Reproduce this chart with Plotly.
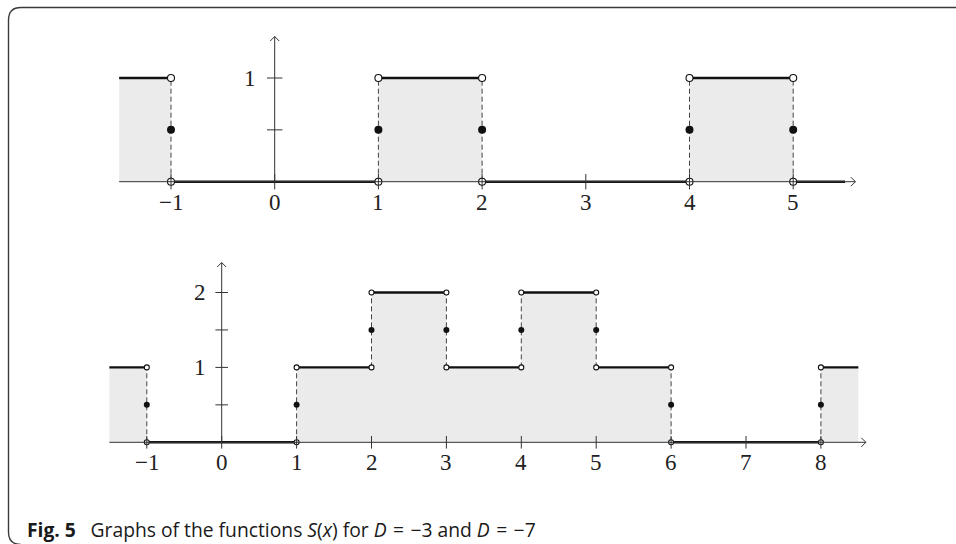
import plotly.graph_objects as go

# ---------------- data ----------------
# top graph: D = -3
top_xmin, top_xmax = -1.5, 5.5
top_jumps = [-1, 1, 2, 4, 5]
top_levels = [1, 0, 1, 0, 1, 0]          # value on each open interval
top_mid = [0.5, 0.5, 0.5, 0.5, 0.5]      # value at each jump
top_xticks = [-1, 0, 1, 2, 3, 4, 5]
top_xlabels = ["\u22121", "0", "1", "2", "3", "4", "5"]
top_yticks = [0.5, 1]
top_ylabels = ["", "1"]

# bottom graph: D = -7
bot_xmin, bot_xmax = -1.5, 8.5
bot_jumps = [-1, 1, 2, 3, 4, 5, 6, 8]
bot_levels = [1, 0, 1, 2, 1, 2, 1, 0, 1]
bot_mid = [0.5, 0.5, 1.5, 1.5, 1.5, 1.5, 0.5, 0.5]
bot_xticks = [-1, 0, 1, 2, 3, 4, 5, 6, 7, 8]
bot_xlabels = ["\u22121", "0", "1", "2", "3", "4", "5", "6", "7", "8"]
bot_yticks = [0.5, 1, 1.5, 2]
bot_ylabels = ["", "1", "", "2"]

caption = ("<b>Fig. 5</b>\u2002 Graphs of the functions <i>S</i>(<i>x</i>) for "
           "<i>D</i>\u2004=\u2004\u22123 and <i>D</i>\u2004=\u2004\u22127")

# ---------------- layout geometry ----------------
W, H = 956, 544
TOP = dict(ox=274.7, oy=181.7, s=103.7, y0px=0, y1px=236, ax_end=5.6, ay_end=1.4,
           open_size=7, dot_size=8, tick=11, lshift=-21, yshift_x=-17)
BOT = dict(ox=221.7, oy=442.3, s=74.9, y0px=240, y1px=544, ax_end=8.6, ay_end=2.4,
           open_size=5, dot_size=6, tick=9, lshift=-20, yshift_x=-14)

FILL = "#ebebeb"
INK = "#111111"
AXC = "#333333"
LABEL_FONT = dict(family="Liberation Serif", size=23, color="#222222")

fig = go.Figure()
annotations = []


def panel(g, xa, ya, xmin, xmax, jumps, levels, mid, xticks, xlabels, yticks, ylabels):
    xr, yr = "x" if xa == 1 else f"x{xa}", "y" if ya == 1 else f"y{ya}"
    # fill under step function
    fx = [xmin] + list(jumps) + [xmax]
    fy = list(levels) + [levels[-1]]
    fig.add_trace(go.Scatter(x=fx, y=fy, mode="lines", line=dict(width=0, shape="hv"),
                             fill="tozeroy", fillcolor=FILL, hoverinfo="skip",
                             showlegend=False, xaxis=xr, yaxis=yr))
    # dashed verticals at jumps
    dx, dy = [], []
    for i, j in enumerate(jumps):
        lo, hi = min(levels[i], levels[i + 1]), max(levels[i], levels[i + 1])
        dx += [j, j, None]
        dy += [lo, hi, None]
    fig.add_trace(go.Scatter(x=dx, y=dy, mode="lines",
                             line=dict(color="#444444", width=1, dash="5px,3px"),
                             hoverinfo="skip", showlegend=False, xaxis=xr, yaxis=yr))
    # thick horizontal segments
    sx, sy = [], []
    for i, lv in enumerate(levels):
        sx += [fx[i], fx[i + 1], None]
        sy += [lv, lv, None]
    fig.add_trace(go.Scatter(x=sx, y=sy, mode="lines", line=dict(color=INK, width=2.4),
                             hoverinfo="skip", showlegend=False, xaxis=xr, yaxis=yr))
    # open circles at both ends of each jump
    ox_, oy_ = [], []
    for i, j in enumerate(jumps):
        ox_ += [j, j]
        oy_ += [levels[i], levels[i + 1]]
    fig.add_trace(go.Scatter(x=ox_, y=oy_, mode="markers",
                             marker=dict(symbol="circle", size=g["open_size"], color="white",
                                         line=dict(color=INK, width=1.1)),
                             hoverinfo="skip", showlegend=False, xaxis=xr, yaxis=yr, cliponaxis=False))
    # filled dots at jump values
    fig.add_trace(go.Scatter(x=jumps, y=mid, mode="markers",
                             marker=dict(symbol="circle", size=g["dot_size"], color=INK, line=dict(width=0)),
                             hoverinfo="skip", showlegend=False, xaxis=xr, yaxis=yr, cliponaxis=False))
    # axes lines
    s = g["s"]
    ah = 4.5 / s
    fig.add_trace(go.Scatter(
        x=[xmin, g["ax_end"], None, g["ax_end"] - ah, g["ax_end"], g["ax_end"] - ah, None,
           0, 0, None, -ah, 0, ah],
        y=[0, 0, None, ah, 0, -ah, None,
           0, g["ay_end"], None, g["ay_end"] - ah, g["ay_end"], g["ay_end"] - ah],
        mode="lines", line=dict(color=AXC, width=1), hoverinfo="skip",
        showlegend=False, xaxis=xr, yaxis=yr, cliponaxis=False))
    # tick marks
    fig.add_trace(go.Scatter(x=xticks, y=[0] * len(xticks), mode="markers",
                             marker=dict(symbol="line-ns", size=g["tick"], line=dict(color=AXC, width=1)),
                             hoverinfo="skip", showlegend=False, xaxis=xr, yaxis=yr, cliponaxis=False))
    fig.add_trace(go.Scatter(x=[0] * len(yticks), y=yticks, mode="markers",
                             marker=dict(symbol="line-ew", size=g["tick"], line=dict(color=AXC, width=1)),
                             hoverinfo="skip", showlegend=False, xaxis=xr, yaxis=yr, cliponaxis=False))
    # tick labels
    for v, t in zip(xticks, xlabels):
        annotations.append(dict(x=v, y=0, xref=xr, yref=yr, text=t, showarrow=False,
                                xanchor="center", yanchor="middle", yshift=g["lshift"],
                                font=LABEL_FONT))
    for v, t in zip(yticks, ylabels):
        if t:
            annotations.append(dict(x=0, y=v, xref=xr, yref=yr, text=t, showarrow=False,
                                    xanchor="right", yanchor="middle", xshift=g["yshift_x"],
                                    font=LABEL_FONT))


panel(TOP, 1, 1, top_xmin, top_xmax, top_jumps, top_levels, top_mid,
      top_xticks, top_xlabels, top_yticks, top_ylabels)
panel(BOT, 2, 2, bot_xmin, bot_xmax, bot_jumps, bot_levels, bot_mid,
      bot_xticks, bot_xlabels, bot_yticks, bot_ylabels)


def axes_for(g):
    xr = [-g["ox"] / g["s"], (W - g["ox"]) / g["s"]]
    yr = [(g["oy"] - g["y1px"]) / g["s"], (g["oy"] - g["y0px"]) / g["s"]]
    yd = [1 - g["y1px"] / H, 1 - g["y0px"] / H]
    return xr, yr, yd


txr, tyr, tyd = axes_for(TOP)
bxr, byr, byd = axes_for(BOT)
hidden = dict(visible=False, showgrid=False, zeroline=False, fixedrange=True)

annotations.append(dict(x=25 / W, y=1 - 529.5 / H, xref="paper", yref="paper", text=caption,
                        showarrow=False, xanchor="left", yanchor="middle",
                        font=dict(family="Open Sans", size=19.3, color="#1a1a1a")))

# rounded frame
def px(x, y):
    return f"{x / W:.5f},{1 - y / H:.5f}"

frame = (f"M {px(957, 7.5)} L {px(21, 7.5)} Q {px(8.5, 7.5)} {px(8.5, 20)} "
         f"L {px(8.5, 532)} Q {px(8.5, 544.5)} {px(21, 544.5)}")

fig.update_layout(
    width=W, height=H, margin=dict(l=0, r=0, t=0, b=0),
    paper_bgcolor="white", plot_bgcolor="rgba(0,0,0,0)",
    xaxis=dict(domain=[0, 1], range=txr, anchor="y", **hidden),
    yaxis=dict(domain=tyd, range=tyr, anchor="x", **hidden),
    xaxis2=dict(domain=[0, 1], range=bxr, anchor="y2", **hidden),
    yaxis2=dict(domain=byd, range=byr, anchor="x2", **hidden),
    annotations=annotations,
    shapes=[dict(type="path", path=frame, xref="paper", yref="paper",
                 line=dict(color="#3a3a3a", width=1.4))],
    showlegend=False,
)

fig.write_html("out.html")
